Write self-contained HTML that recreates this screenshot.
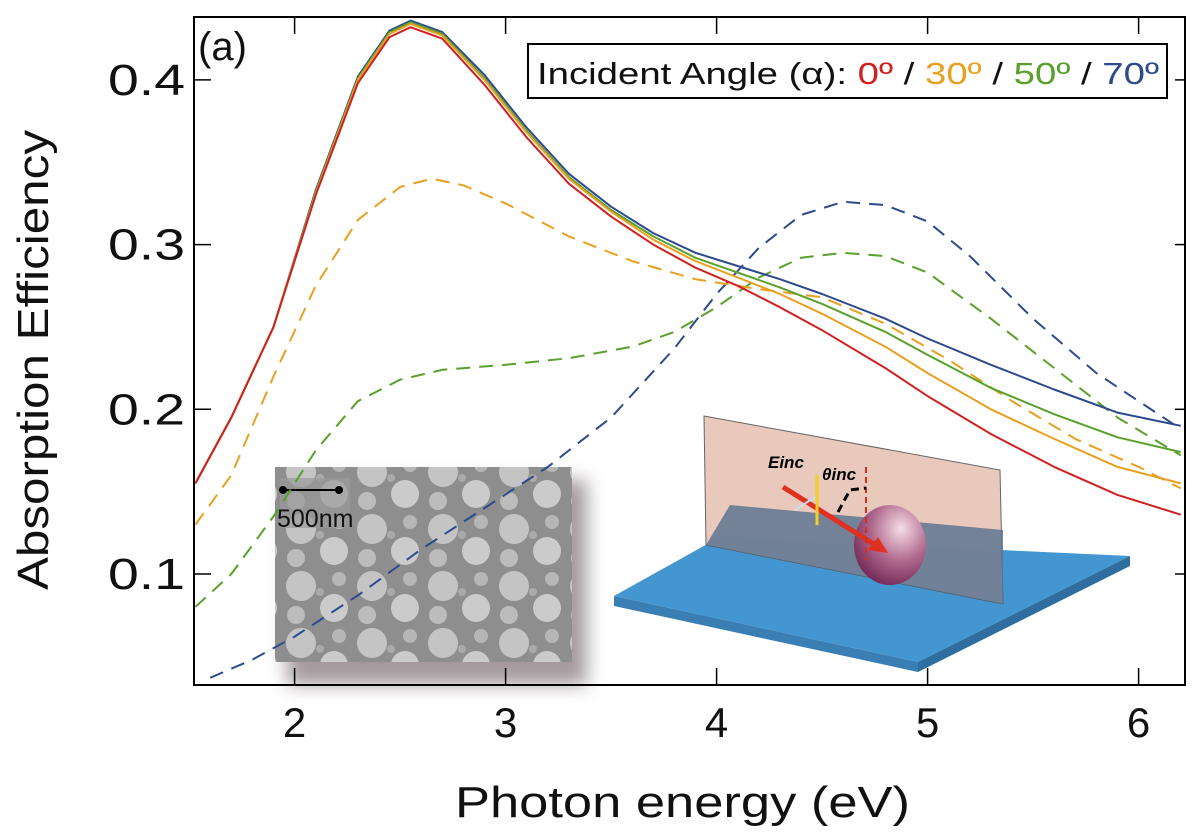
<!DOCTYPE html>
<html><head><meta charset="utf-8"><style>
body{margin:0;background:#fff;width:1200px;height:832px;overflow:hidden;font-family:"Liberation Sans",sans-serif}
</style></head><body>
<svg id="c" width="1200" height="832" xmlns="http://www.w3.org/2000/svg">
<defs>
<filter id="sh" x="-20%" y="-20%" width="150%" height="150%"><feGaussianBlur stdDeviation="9"/></filter>
<radialGradient id="sph" cx="0.65" cy="0.3" r="0.8"><stop offset="0" stop-color="#f6dde6"/><stop offset="0.5" stop-color="#b06a8e"/><stop offset="1" stop-color="#6a2050"/></radialGradient>
<pattern id="sem" width="71" height="57" patternUnits="userSpaceOnUse"><rect width="71" height="57" fill="#8e8e8e"/><circle cx="17" cy="16" r="15" fill="#c4c4c4"/><circle cx="50" cy="38" r="14" fill="#cbcbcb"/><circle cx="55" cy="9" r="7" fill="#b6b6b6"/><circle cx="12" cy="45" r="9" fill="#bcbcbc"/><circle cx="36" cy="22" r="4" fill="#aaa"/></pattern>
</defs>
<g id="insets"></g>
<g id="plot"></g>
</svg>
<script>
const NS="http://www.w3.org/2000/svg";
const xTicks=[2,3,4,5,6];
const yTicks=[0.1,0.2,0.3,0.4];
const solidX=[1.53,1.7,1.9,2.1,2.3,2.45,2.55,2.7,2.9,3.1,3.3,3.5,3.7,3.9,4.1,4.3,4.5,4.8,5.0,5.3,5.6,5.9,6.2];
const red0=[0.155,0.195,0.25,0.33,0.398,0.426,0.432,0.425,0.397,0.365,0.337,0.317,0.3,0.286,0.275,0.262,0.248,0.225,0.208,0.185,0.165,0.148,0.136];
const orange30=[0.155,0.195,0.25,0.331,0.4,0.428,0.434,0.427,0.4,0.368,0.34,0.32,0.303,0.29,0.28,0.27,0.258,0.238,0.222,0.2,0.182,0.165,0.155];
const green50=[0.155,0.195,0.25,0.332,0.401,0.429,0.435,0.428,0.401,0.369,0.341,0.321,0.305,0.292,0.283,0.274,0.264,0.247,0.233,0.213,0.197,0.183,0.174];
const blue70=[0.155,0.195,0.25,0.333,0.402,0.43,0.436,0.429,0.403,0.371,0.343,0.323,0.307,0.295,0.287,0.279,0.27,0.255,0.243,0.227,0.212,0.198,0.19];
const dashOX=[1.53,1.7,1.9,2.1,2.3,2.5,2.65,2.8,3.0,3.3,3.6,3.9,4.2,4.5,4.8,5.1,5.4,5.7,6.0,6.2];
const dashO=[0.13,0.16,0.22,0.275,0.315,0.335,0.34,0.336,0.325,0.305,0.29,0.279,0.273,0.268,0.252,0.23,0.205,0.182,0.165,0.152];
const dashGX=[1.53,1.7,1.9,2.1,2.3,2.5,2.7,3.0,3.3,3.6,3.8,4.0,4.2,4.4,4.6,4.8,5.0,5.3,5.6,5.9,6.2];
const dashG=[0.08,0.1,0.135,0.175,0.205,0.218,0.224,0.227,0.231,0.238,0.247,0.262,0.28,0.292,0.295,0.293,0.283,0.255,0.225,0.195,0.172];
const dashBX=[1.6,1.8,2.0,2.3,2.6,2.9,3.2,3.5,3.8,4.0,4.2,4.4,4.6,4.8,5.0,5.2,5.5,5.8,6.0,6.2];
const dashB=[0.037,0.048,0.062,0.087,0.115,0.14,0.165,0.195,0.237,0.27,0.298,0.318,0.326,0.324,0.314,0.293,0.255,0.222,0.205,0.188];
const X0=194,X1=1185,Y0=17,Y1=685;
const xs=v=>294.6+211*(v-2);
const ys=v=>574-1647*(v-0.1);
function el(t,a,p){const e=document.createElementNS(NS,t);for(const k in a)e.setAttribute(k,a[k]);(p||document.getElementById('plot')).appendChild(e);return e;}
function line(xa,ya,col,dash,name){
 let d="";xa.forEach((x,i)=>{d+=(i?"L":"M")+xs(x).toFixed(1)+","+ys(ya[i]).toFixed(1);});
 const p=el('path',{d:d,fill:'none',stroke:col,'stroke-width':2,'stroke-linejoin':'round','stroke-dasharray':dash?'14,9':'none','clip-path':'url(#clip)'});
 
 
}
const ins=document.getElementById('insets');
let g=el('g',{},ins);
el('rect',{x:287,y:480,width:300,height:205,fill:'#5a4a50',opacity:0.55,filter:'url(#sh)'},g);
el('rect',{x:275,y:467,width:297,height:195,fill:'url(#sem)'},g);
el('rect',{x:280,y:478,width:70,height:50,fill:'#9a9a9a',opacity:0.7},g);
el('line',{x1:283,y1:490,x2:339,y2:490,stroke:'#000','stroke-width':2},g);
el('circle',{cx:283,cy:490,r:4},g);el('circle',{cx:339,cy:490,r:4},g);
let t=el('text',{x:277,y:527,'font-size':25,fill:'#111'},g);t.textContent='500nm';

g=el('g',{},ins);
el('polygon',{points:'614,596 720,537 1130,556 918,662',fill:'#4396d0'},g);
el('polygon',{points:'614,596 918,662 918,672 614,606',fill:'#3a7fb4'},g);
el('polygon',{points:'918,662 1130,556 1130,566 918,672',fill:'#2f6fa0'},g);
el('polygon',{points:'704,416 1000,470 1003,604 706,545',fill:'#e8c4b6',opacity:0.9,stroke:'#555','stroke-width':1},g);
el('polygon',{points:'706,545 730,505 1003,530 1003,604',fill:'#5f7590',opacity:0.85},g);
el('ellipse',{cx:890,cy:545,rx:36,ry:40,fill:'url(#sph)'},g);
el('line',{x1:783,y1:487,x2:880,y2:548,stroke:'#e03020','stroke-width':5},g);
el('polygon',{points:'888,553 868,550 878,537',fill:'#e03020'},g);
el('line',{x1:817,y1:475,x2:817,y2:525,stroke:'#f0d020','stroke-width':3},g);
el('line',{x1:795,y1:510,x2:815,y2:497,stroke:'#cde','stroke-width':2},g);
el('line',{x1:866,y1:467,x2:866,y2:560,stroke:'#d03020','stroke-width':2,'stroke-dasharray':'6,4'},g);
el('path',{d:'M838,512 L850,490 L866,488',fill:'none',stroke:'#000','stroke-width':3,'stroke-dasharray':'8,5'},g);
t=el('text',{x:768,y:468,'font-size':17,'font-weight':'bold','font-style':'italic'},g);t.textContent='Einc';
t=el('text',{x:822,y:480,'font-size':17,'font-weight':'bold','font-style':'italic'},g);t.textContent='θinc';
const defs=document.querySelector('defs');
const cp=el('clipPath',{id:'clip'},defs);el('rect',{x:X0,y:Y0,width:X1-X0,height:Y1-Y0},cp);
line(dashBX,dashB,'#2e4a8c',true,'series-70deg-dashed');
line(dashGX,dashG,'#5aa02c',true,'series-50deg-dashed');
line(dashOX,dashO,'#e8a020',true,'series-30deg-dashed');
line(solidX,blue70,'#2e4a8c',false,'series-70deg');
line(solidX,green50,'#5aa02c',false,'series-50deg');
line(solidX,orange30,'#e8a020',false,'series-30deg');
line(solidX,red0,'#d02020',false,'series-0deg');
let f=el('rect',{x:X0,y:Y0,width:X1-X0,height:Y1-Y0,fill:'none',stroke:'#000','stroke-width':2});

xTicks.forEach(v=>{const x=xs(v);el('line',{x1:x,y1:Y1,x2:x,y2:Y1-17,stroke:'#000','stroke-width':1.5});
 el('line',{x1:x,y1:Y0,x2:x,y2:Y0+17,stroke:'#000','stroke-width':1.5});
 const tt=el('text',{x:x,y:737,'font-size':42,'text-anchor':'middle',fill:'#111'});tt.textContent=v;
 });
yTicks.forEach(v=>{const y=ys(v);el('line',{x1:X0,y1:y,x2:X0+17,y2:y,stroke:'#000','stroke-width':1.5});el('line',{x1:X1,y1:y,x2:X1-10,y2:y,stroke:'#000','stroke-width':1.5});
 const tt=el('text',{x:185,y:y+15,'font-size':44,'text-anchor':'end',fill:'#111',textLength:77,lengthAdjust:'spacingAndGlyphs'});tt.textContent=v.toFixed(1);
 });
t=el('text',{x:455,y:817,'font-size':44,fill:'#111',textLength:455,lengthAdjust:'spacingAndGlyphs'});t.textContent='Photon energy (eV)';

t=el('text',{x:0,y:0,'font-size':44,fill:'#111',transform:'translate(48,590) rotate(-90)',textLength:460,lengthAdjust:'spacingAndGlyphs'});t.textContent='Absorption Efficiency';

t=el('text',{x:198,y:60,'font-size':40,fill:'#111'});t.textContent='(a)';

g=el('g',{});
el('rect',{x:528,y:44,width:639,height:54,fill:'#fff',stroke:'#000','stroke-width':2},g);
t=el('text',{x:537,y:84,'font-size':31,fill:'#111',textLength:622,lengthAdjust:'spacingAndGlyphs'},g);
t.innerHTML='Incident Angle (α):  <tspan fill="#d02020">0º</tspan> / <tspan fill="#e8a020">30º</tspan> / <tspan fill="#5aa02c">50º</tspan> / <tspan fill="#2e4a8c">70º</tspan>';

</script>
</body></html>
